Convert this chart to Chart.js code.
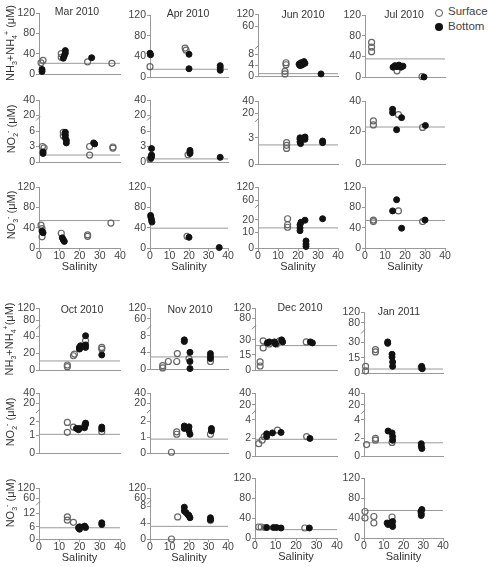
<!DOCTYPE html>
<html>
<head>
<meta charset="utf-8">
<script src="https://cdn.jsdelivr.net/npm/chart.js@4.4.1/dist/chart.umd.min.js"></script>
<style>
body{margin:0;background:#fff;width:489px;height:567px;position:relative;overflow:hidden;font-family:"Liberation Sans",Arial,sans-serif;color:#333}
canvas{position:absolute}
.t{position:absolute;transform:translate(-50%,-50%);font-size:10.5px;white-space:nowrap;color:#333}
.yl{position:absolute;transform:translate(-50%,-50%) rotate(-90deg);font-size:11px;white-space:nowrap;color:#333}
.yl sub,.yl sup{font-size:7px;line-height:0}
.lg{position:absolute;font-size:11.5px;color:#444}
.dot{position:absolute;width:8px;height:8px;border-radius:50%;box-sizing:border-box}
</style>
</head>
<body>
<div class="dot" style="left:435px;top:9px;border:1.3px solid #555"></div>
<div class="lg" style="left:448px;top:5px">Surface</div>
<div class="dot" style="left:435px;top:23px;background:#111"></div>
<div class="lg" style="left:448px;top:20px">Bottom</div>
<script>
// months shown above the first row of each block
const months = ['Mar 2010', 'Apr 2010', 'Jun 2010', 'Jul 2010', 'Oct 2010', 'Nov 2010', 'Dec 2010', 'Jan 2011'];

// [salinity, concentration] pairs, S = surface, B = bottom
const marNhS = [[1,22],[2,27],[11,40],[11,33],[24,24],[36,21]];
const marNhB = [[1.5,5],[1.5,9],[13,46],[13,41],[12.5,36],[12,31],[26,32]];
const aprNhS = [[0,20],[18,56],[18.5,52]];
const aprNhB = [[0,46],[0.3,43],[20,44],[20,16],[36,22],[36,18],[36,13]];
const junNhS = [[14,5],[14,4.3],[13.5,1.8],[13.5,0.8]];
const junNhB = [[20.5,4.5],[21,4],[21.5,5],[22,4.2],[22.5,4.6],[23,5.4],[23.5,4.8],[31.5,0.8]];
const julNhS = [[3.3,67],[3.3,58],[3.3,49],[16,12],[28.5,1]];
const julNhB = [[14,19],[15,22],[16,20],[17,23],[18,19],[19,21],[29.5,0]];

const marNo2S = [[1.7,3],[2.5,2.75],[12,5.75],[12,5.1],[25,3],[25,1.35],[36.5,2.9],[36.5,2.7]];
const marNo2B = [[2,1.95],[2,1.65],[13,5.75],[13,5.2],[13,4.7],[13.5,4.2],[13.5,3.7],[27,3.7],[27.5,3.5]];
const aprNo2S = [[0,0.6],[19.5,1.4]];
const aprNo2B = [[0.8,2.6],[0.8,1.35],[0.8,1.05],[0.5,0.75],[20.5,2.25],[20.5,1.9],[20.5,1.65],[36,0.9]];
const junNo2S = [[14.3,2.46],[14.3,2.15],[14.3,1.8]];
const junNo2B = [[21,3.1],[21,2.85],[21,2.55],[21.3,2.35],[22.7,3],[23.5,3.7],[23.5,2.85],[32.3,2.65],[32.3,2.46]];
const julNo2S = [[4.2,26.8],[4.2,24.2],[16.7,31],[28.8,22.5]];
const julNo2B = [[13.8,34.5],[13.8,32.3],[18.3,29],[15.8,21],[30.2,23.8]];

const marNo3S = [[1,45],[1.5,38],[1.5,22],[11,29],[24,26],[24,23],[35.5,49]];
const marNo3B = [[1.5,33],[2,30],[11.5,20],[12,16],[12.5,13]];
const aprNo3S = [[19,23]];
const aprNo3B = [[0.3,64],[0.5,60],[0.8,55],[1,51],[20,21],[35.5,1]];
const junNo3S = [[14.8,22],[14.8,16],[14.8,14]];
const junNo3B = [[21,16],[21,13.5],[21,11.3],[21.5,18],[23.5,19.6],[24,4.5],[24,2.5],[24,1],[32.3,22]];
const julNo3S = [[4.2,55],[4.2,52],[16.7,73],[28.8,52]];
const julNo3B = [[13.8,73],[15.8,95],[18.3,39],[30,55]];

const octNhS = [[14,4],[14,6],[17,17],[17.5,19],[20,26],[23,35],[31,27],[31,25]];
const octNhB = [[20,27],[20,25],[20.5,29],[23,42],[23,30],[23,27],[31,18]];
const novNhS = [[6.5,0.8],[6.5,0.25],[9.4,1.8],[14,3.7],[13.7,1.8],[20,2.5],[31,1.8]];
const novNhB = [[17.6,7],[17.6,6.6],[20.5,4],[20.5,1.8],[20.5,0.1],[31,3.7],[31,3],[31,2.5]];
const decNhS = [[2.5,8],[2.5,4],[4,29],[4,22],[7,26],[10.5,26],[12,29],[25,28]];
const decNhB = [[6,27],[7,28],[9.5,28],[10,26],[13,30],[13.5,28],[27,28],[28,27]];
const janNhS = [[0.8,6.5],[0.8,2],[5.8,22.8],[5.8,20.5],[29,5.2]];
const janNhB = [[12,30.3],[12,28.7],[14.2,18.3],[14.2,15.7],[14.5,10.8],[14.5,6.5],[29.2,6.5],[29.5,4.2]];

const octNo2S = [[14,1.95],[14,1.2],[17,1.6],[22.5,1.7],[31,1.25]];
const octNo2B = [[18.5,1.5],[19.5,1.4],[20,1.5],[22.5,1.55],[23,1.8],[23,1.9],[31,1.6],[31,1.45]];
const novNo2S = [[13.7,1.35],[13.7,1.2],[11,0.05],[31,1.2]];
const novNo2B = [[17.6,1.7],[17.6,1.55],[20,1.65],[20,1.4],[20.5,1.2],[19.5,1.55],[31.5,1.55],[31.5,1.4]];
const decNo2S = [[1.8,1.4],[3.5,1.8],[4.5,2.2],[11,2.9],[25.2,2.2]];
const decNo2B = [[5.7,2.2],[5.7,2.5],[8.5,2.6],[12.7,2.65],[26.8,2]];
const janNo2S = [[1.3,1.3],[5.8,2],[5.8,1.8],[14.2,1.55]];
const janNo2B = [[12.2,2.8],[14.2,2.6],[14.5,2.2],[14.5,1.8],[29,1.4],[29,1.1],[29.3,0.85]];

const octNo3S = [[14,10.5],[14,9],[17,8]];
const octNo3B = [[19.5,5.5],[20,4.8],[20,6],[22.5,6.3],[23,5.6],[31,7.8],[31,7]];
const novNo3S = [[14.2,5.5],[11,0],[31,4.7]];
const novNo3B = [[17.6,7.8],[17.6,6.9],[18.5,6.5],[19.5,6],[20,5.8],[20.5,5.3],[31,5.3],[31,4.8]];
const decNo3S = [[1.8,22],[3,22],[5,21],[24.3,20]];
const decNo3B = [[5.7,21],[9,21],[10.5,21],[12.7,20],[26.5,20]];
const janNo3S = [[0.5,53],[0.5,40],[5,43],[5,30],[14.2,42]];
const janNo3B = [[11.7,30],[12.2,27],[13,30],[14.2,27],[14.5,33],[14.5,23],[28.8,53],[29,49],[29,45],[29.3,57]];

// y tick labels (broken axes)
const t120 = [0, 40, 80, 120];
const junNhTicks = [0, 4, 8, 60, 120];
const no2Ticks = [0, 3, 6, 20, 40];
const junNo2Ticks = [0, 3, 20, 40];
const julNo2Ticks = [0, 20, 40];
const junNo3Ticks = [0, 10, 20, 60, 120];
const octNhTicks = [0, 20, 40, 80, 120];
const novNhTicks = [0, 4, 8, 60, 120];
const decNhTicks = [0, 15, 30, 80, 120];
const octNo2Ticks = [0, 1, 2, 20, 40];
const decNo2Ticks = [0, 2, 4, 20, 40];
const octNo3Ticks = [0, 6, 12, 60, 120];
const novNo3Ticks = [0, 4, 8, 60, 120];
const xTicks = [0, 10, 20, 30, 40];

// horizontal reference levels
const nhRefTop = [21, 15, 0.9, 35];
const no2RefTop = [1.35, 0.6, 2.2, 22.8];
const no3RefTop = [54, 39, 13.5, 54];
const nhRefBot = [10.8, 2.9, 24.3, 3.9];
const no2RefBot = [1.05, 0.9, 1.9, 1.5];
const no3RefBot = [5.5, 3.2, 16.7, 55];

// broken axis: linear between tick labels
class BrokenScale extends Chart.LinearScale {
  determineDataLimits() { this.min = 0; this.max = 1; }
  buildTicks() { return this.options.tickValues.map(v => ({ value: v })); }
  getPixelForValue(v) {
    const tv = this.options.tickValues, tf = this.options.tickFrac;
    let i = 1;
    while (i < tv.length - 1 && v > tv[i]) i++;
    const d = tf[i - 1] + (v - tv[i - 1]) / (tv[i] - tv[i - 1]) * (tf[i] - tf[i - 1]);
    return this.getPixelForDecimal(d);
  }
}
BrokenScale.id = 'broken';
BrokenScale.defaults = {};
Chart.register(BrokenScale);

const breakMark = {
  id: 'breakMark',
  afterDraw(chart, args, opts) {
    if (opts.at == null) return;
    const y = chart.scales.y, ctx = chart.ctx;
    const py = y.getPixelForDecimal(opts.at), px = y.right;
    ctx.save();
    ctx.strokeStyle = '#888';
    ctx.lineWidth = 1;
    ctx.beginPath();
    ctx.moveTo(px - 3, py + 2);
    ctx.lineTo(px + 1, py - 2);
    ctx.stroke();
    ctx.restore();
  }
};

const L3 = [0, 1/3, 2/3, 1];
// box = [x of salinity 0, x of 40, y of top tick, y of 0]; f = tick fractions; k = break mark
const panels = [
  {s: marNhS, b: marNhB, t: t120, r: nhRefTop[0], box: [39,120,13,74], f: L3},
  {s: aprNhS, b: aprNhB, t: t120, r: nhRefTop[1], box: [150,228,15,77], f: L3},
  {s: junNhS, b: junNhB, t: junNhTicks, r: nhRefTop[2], box: [258,338,14,76], f: [0,.168,.351,.8,1], k: .47},
  {s: julNhS, b: julNhB, t: t120, r: nhRefTop[3], box: [365,445,15,77], f: L3},

  {s: marNo2S, b: marNo2B, t: no2Ticks, r: no2RefTop[0], box: [39,120,100,162], f: [0,.25,.5,.75,1], k: .7},
  {s: aprNo2S, b: aprNo2B, t: no2Ticks, r: no2RefTop[1], box: [150,228,100,162], f: [0,.25,.5,.75,1], k: .7},
  {s: junNo2S, b: junNo2B, t: junNo2Ticks, r: no2RefTop[2], box: [258,338,101,164], f: [0,.413,.8,1], k: .7},
  {s: julNo2S, b: julNo2B, t: julNo2Ticks, r: no2RefTop[3], box: [365,445,101,164], f: [0,.52,1]},

  {s: marNo3S, b: marNo3B, t: t120, r: no3RefTop[0], box: [39,120,187,248], f: L3},
  {s: aprNo3S, b: aprNo3B, t: t120, r: no3RefTop[1], box: [150,228,187,248], f: L3},
  {s: junNo3S, b: junNo3B, t: junNo3Ticks, r: no3RefTop[2], box: [258,338,187,248], f: [0,.257,.464,.781,1], k: .69},
  {s: julNo3S, b: julNo3B, t: t120, r: no3RefTop[3], box: [365,445,187,248], f: L3},

  {s: octNhS, b: octNhB, t: octNhTicks, r: nhRefBot[0], box: [39,120,308,370], f: [0,.27,.54,.8,1], k: .69},
  {s: novNhS, b: novNhB, t: novNhTicks, r: nhRefBot[1], box: [150,228,308,369], f: [0,.273,.546,.82,1], k: .68},
  {s: decNhS, b: decNhB, t: decNhTicks, r: nhRefBot[2], box: [255,337,308,370], f: [0,.243,.486,.838,1], k: .69},
  {s: janNhS, b: janNhB, t: decNhTicks, r: nhRefBot[3], box: [364,443,312,373], f: [0,.251,.508,.82,1], k: .68},

  {s: octNo2S, b: octNo2B, t: octNo2Ticks, r: no2RefBot[0], box: [39,120,393,453], f: [0,.3,.52,.825,1], k: .7},
  {s: novNo2S, b: novNo2B, t: octNo2Ticks, r: no2RefBot[1], box: [150,228,393,453], f: [0,.257,.533,.825,1], k: .7},
  {s: decNo2S, b: decNo2B, t: decNo2Ticks, r: no2RefBot[2], box: [255,337,393,456], f: [0,.279,.572,.812,1], k: .7},
  {s: janNo2S, b: janNo2B, t: decNo2Ticks, r: no2RefBot[3], box: [364,443,393,456], f: [0,.279,.572,.812,1], k: .7},

  {s: octNo3S, b: octNo3B, t: octNo3Ticks, r: no3RefBot[0], box: [39,120,488,539], f: [0,.24,.5,.8,1], k: .7},
  {s: novNo3S, b: novNo3B, t: novNo3Ticks, r: no3RefBot[1], box: [150,228,488,539], f: [0,.31,.64,.8,1], k: .72},
  {s: decNo3S, b: decNo3B, t: t120, r: no3RefBot[2], box: [255,337,478,538], f: L3},
  {s: janNo3S, b: janNo3B, t: t120, r: no3RefBot[3], box: [364,443,478,538], f: L3}
];

const YW = 30, PT = 8, PR = 7;
const pts = a => a.map(([x, y]) => ({ x: x, y: y }));

panels.forEach((p, i) => {
  const row = Math.floor(i / 4);
  const xl = row === 2 || row === 5;
  const xh = xl ? 24 : 8;
  const [x0, x1, yt, yb] = p.box;
  const cv = document.createElement('canvas');
  cv.width = x1 - x0 + YW + PR;
  cv.height = yb - yt + PT + xh;
  cv.style.left = (x0 - YW) + 'px';
  cv.style.top = (yt - PT) + 'px';
  document.body.appendChild(cv);

  new Chart(cv, {
    type: 'scatter',
    data: {
      datasets: [
        { data: pts(p.b), pointRadius: 3, backgroundColor: '#111', borderColor: '#111', borderWidth: 1, clip: false },
        { data: pts(p.s), pointRadius: 3, backgroundColor: 'rgba(255,255,255,0)', borderColor: '#666', borderWidth: 1.2, clip: false },
        { data: [{ x: 0, y: p.r }, { x: 40, y: p.r }], showLine: true, pointRadius: 0, borderColor: '#9a9a9a', borderWidth: 1 }
      ]
    },
    options: {
      responsive: false,
      animation: false,
      events: [],
      layout: { padding: { top: PT, right: PR, left: 0, bottom: 0 } },
      plugins: { legend: { display: false }, tooltip: { enabled: false }, breakMark: { at: p.k } },
      scales: {
        x: {
          type: 'linear', min: 0, max: 40,
          afterFit: s => { s.height = xh; },
          afterBuildTicks: s => { s.ticks = xTicks.map(v => ({ value: v })); },
          border: { color: '#999' },
          grid: { drawOnChartArea: false, drawTicks: xl, tickLength: 3, color: '#999' },
          ticks: { display: xl, padding: 0, color: '#444', font: { size: 10.5, lineHeight: 1 } },
          title: { display: xl, text: 'Salinity', color: '#333', padding: 0, font: { size: 11, lineHeight: 1 } }
        },
        y: {
          type: 'broken', tickValues: p.t, tickFrac: p.f,
          afterFit: s => { s.width = YW; },
          border: { color: '#999' },
          grid: { drawOnChartArea: false, tickLength: 3, color: '#999' },
          ticks: { autoSkip: false, padding: 1, color: '#444', font: { size: 10.5, lineHeight: 1 }, callback: v => String(v) }
        }
      }
    },
    plugins: [breakMark]
  });
});

// panel titles
const titlePos = [[77,11],[188,13],[303,14],[404,14],[82,309],[190,309],[300,307],[399,311]];
months.forEach((m, i) => {
  const d = document.createElement('div');
  d.className = 't';
  d.textContent = m;
  d.style.left = titlePos[i][0] + 'px';
  d.style.top = titlePos[i][1] + 'px';
  document.body.appendChild(d);
});

// y-axis titles
const yLabels = [
  ['NH<sub>3</sub>+NH<sub>4</sub><sup>+</sup> (μM)', 10, 43],
  ['NO<sub>2</sub><sup>-</sup> (μM)', 11, 129],
  ['NO<sub>3</sub><sup>-</sup> (μM)', 11, 215],
  ['NH<sub>3</sub>+NH<sub>4</sub><sup>+</sup>(μM)', 9, 339],
  ['NO<sub>2</sub><sup>-</sup> (μM)', 10, 422],
  ['NO<sub>3</sub><sup>-</sup> (μM)', 10, 503]
];
yLabels.forEach(([h, x, y]) => {
  const d = document.createElement('div');
  d.className = 'yl';
  d.innerHTML = h;
  d.style.left = x + 'px';
  d.style.top = y + 'px';
  document.body.appendChild(d);
});
</script>
</body>
</html>
